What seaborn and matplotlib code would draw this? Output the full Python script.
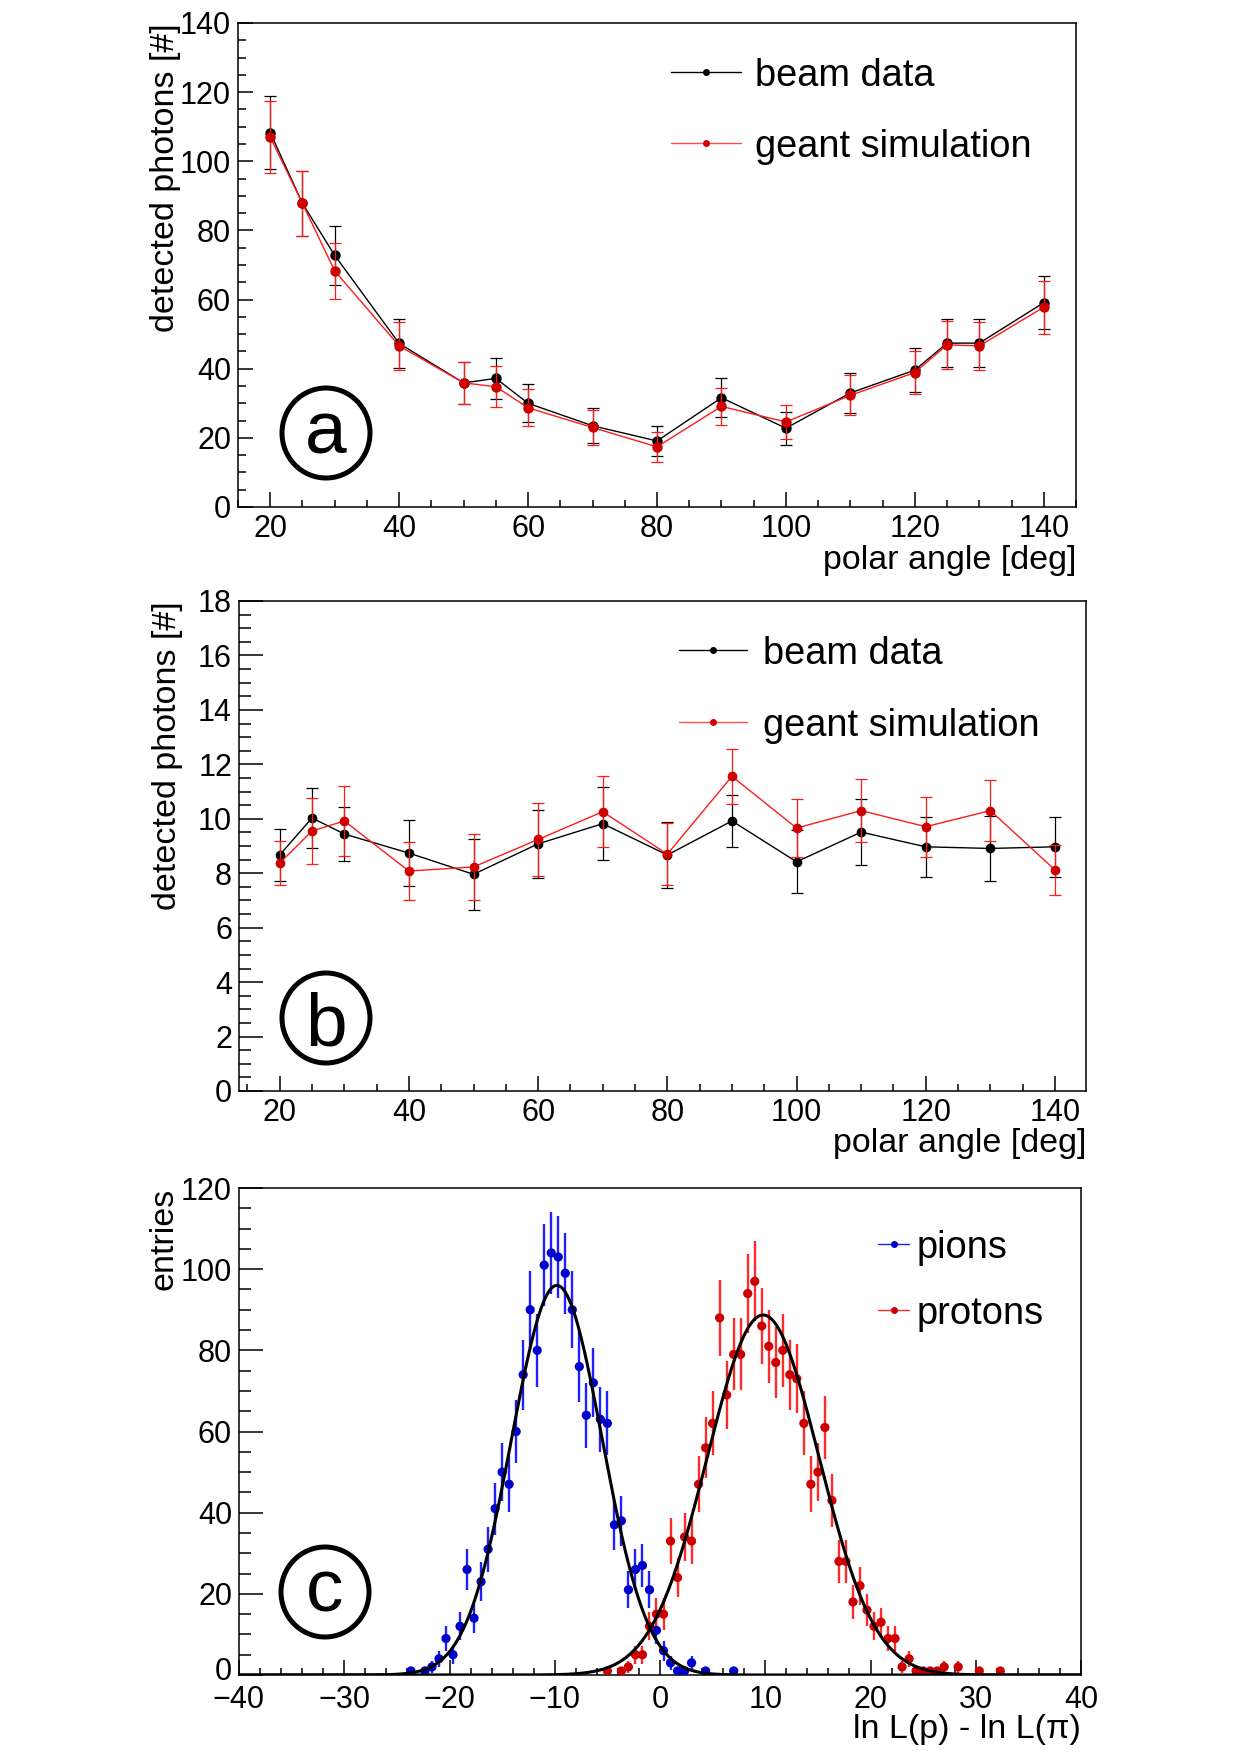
import numpy as np
import pandas as pd
import matplotlib
matplotlib.use("Agg")
import matplotlib.pyplot as plt
import seaborn as sns
from matplotlib.patches import Ellipse
from matplotlib.ticker import MultipleLocator
from matplotlib.transforms import ScaledTranslation


# panel a: detected photons vs polar angle (beam data and simulation)
angle_a = [20, 25, 30, 40, 50, 55, 60, 70, 80, 90, 100, 110, 120, 125, 130, 140]
beam_a = [108.3, 87.8, 72.8, 47.3, 35.9, 37.2, 30.0, 23.5, 19.1, 31.6, 22.8, 33.0, 39.6, 47.4, 47.4, 59.1]
beam_a_err = [10.5, 9.4, 8.5, 7.1, 6.0, 6.0, 5.5, 5.0, 4.4, 5.6, 4.8, 5.8, 6.3, 7.0, 7.0, 7.7]
sim_a = [107.0, 87.8, 68.3, 46.6, 35.9, 34.8, 28.7, 23.0, 17.4, 29.1, 24.6, 32.3, 38.9, 46.9, 46.6, 57.8]
sim_a_err = [10.4, 9.4, 8.2, 7.0, 6.0, 5.9, 5.4, 5.0, 4.3, 5.4, 5.0, 5.8, 6.2, 6.9, 6.9, 7.7]

# panel b
angle_b = [20, 25, 30, 40, 50, 60, 70, 80, 90, 100, 110, 120, 130, 140]
beam_b = [8.67, 10.03, 9.44, 8.74, 7.96, 9.08, 9.82, 8.67, 9.92, 8.42, 9.51, 8.97, 8.91, 8.97]
beam_b_err = [0.95, 1.1, 1.0, 1.2, 1.3, 1.25, 1.35, 1.2, 0.95, 1.15, 1.2, 1.1, 1.2, 1.1]
sim_b = [8.37, 9.55, 9.92, 8.08, 8.23, 9.24, 10.26, 8.70, 11.56, 9.66, 10.30, 9.71, 10.30, 8.12]
sim_b_err = [0.8, 1.2, 1.3, 1.07, 1.2, 1.35, 1.3, 1.15, 1.0, 1.05, 1.17, 1.1, 1.13, 0.93]

# panel c: log-likelihood difference histograms, 120 bins in [-40, 40]
n_bins = 120
hist_range = (-40, 40)
pion_first_bin = 24
pion_counts = [1, 0, 1, 2, 4, 9, 5, 12, 26, 14, 23, 31, 41, 50, 47, 60, 74, 90, 80, 101,
               104, 103, 99, 90, 76, 64, 72, 63, 62, 37, 38, 21, 26, 27, 21, 11, 6, 3, 1, 1,
               3, 0, 1, 0, 0, 0, 1]
proton_first_bin = 52
proton_counts = [1, 0, 1, 2, 5, 5, 12, 15, 15, 33, 24, 34, 33, 47, 56, 62, 88, 69, 79, 79,
                 94, 97, 86, 81, 77, 80, 74, 73, 62, 47, 50, 61, 43, 28, 28, 18, 22, 16, 12, 13,
                 9, 9, 2, 4, 1, 1, 1, 1, 2, 0, 2, 0, 0, 1, 0, 0, 1]
# gaussian fits: amplitude, mean, sigma
pion_fit = (96.0, -9.8, 4.3)
proton_fit = (88.7, 9.8, 5.3)

panel_tags = ["a", "b", "c"]

W, H = 1240, 1755

sns.set_theme(style="ticks")
plt.rcParams["font.family"] = ["Liberation Sans", "DejaVu Sans"]
plt.rcParams["axes.unicode_minus"] = True

fig = plt.figure(figsize=(W / 100, H / 100), dpi=100)


def make_axes(left, right, top, bottom):
    return fig.add_axes([left / W, 1 - bottom / H, (right - left) / W, (bottom - top) / H])


def style_axes(ax, xlim, ylim, xmaj, xmin, ymaj, ymin, ylen, xpad=5):
    ax.set_xlim(xlim)
    ax.set_ylim(ylim)
    ax.xaxis.set_major_locator(MultipleLocator(xmaj))
    ax.xaxis.set_minor_locator(MultipleLocator(xmin))
    ax.yaxis.set_major_locator(MultipleLocator(ymaj))
    ax.yaxis.set_minor_locator(MultipleLocator(ymin))
    ax.tick_params(which="both", direction="in", top=False, right=False,
                   width=1.1, color="black", labelcolor="black", labelsize=22)
    ax.tick_params(axis="x", which="major", length=10.8, pad=xpad)
    ax.tick_params(axis="x", which="minor", length=5)
    ax.tick_params(axis="y", which="major", length=ylen, pad=5)
    ax.tick_params(axis="y", which="minor", length=ylen / 2)
    for s in ax.spines.values():
        s.set_linewidth(1.1)
        s.set_color("black")
        s.set_visible(True)
    ax.grid(False)


def set_labels(ax, xlabel, ylabel, xpos, ypos):
    ax.set_xlabel(xlabel, fontsize=24.5, color="black", ha="right", va="center")
    ax.xaxis.set_label_coords(1.0, xpos)
    ax.set_ylabel(ylabel, fontsize=24.5, color="black", loc="top", va="center")
    ax.yaxis.set_label_coords(ypos, 1.0)


def draw_key(ax, x0, x1, xt, y, lcolor, mcolor, label, ms, lw=1.0):
    ax.plot([x0, x1], [y, y], color=lcolor, lw=lw, transform=ax.transAxes, clip_on=False)
    ax.plot([(x0 + x1) / 2], [y], "o", color=mcolor, ms=ms, mew=0, transform=ax.transAxes, clip_on=False)
    ax.text(xt, y, label, transform=ax.transAxes, ha="left", va="center_baseline",
            fontsize=27.4, color="black")


def angle_panel(ax, x, beam, beam_err, sim, sim_err, ms):
    ax.errorbar(x, beam, yerr=beam_err, fmt="none", ecolor="black", elinewidth=0.9,
                capsize=4.5, capthick=0.9, zorder=2)
    sns.lineplot(x=x, y=beam, ax=ax, color="black", lw=1.0, marker="o", markersize=ms,
                 markerfacecolor="black", markeredgecolor="black", markeredgewidth=0,
                 sort=False, estimator=None, zorder=3)
    ax.errorbar(x, sim, yerr=sim_err, fmt="none", ecolor="#ff1a1a", elinewidth=0.9,
                capsize=4.5, capthick=0.9, zorder=4)
    sns.lineplot(x=x, y=sim, ax=ax, color="#ff1a1a", lw=1.0, marker="o", markersize=ms,
                 markerfacecolor="#d00000", markeredgecolor="#d00000", markeredgewidth=0,
                 sort=False, estimator=None, zorder=5)


# ---- panel a ----
ax_a = make_axes(238, 1076, 23, 507)
angle_panel(ax_a, angle_a, beam_a, beam_a_err, sim_a, sim_a_err, 7.5)
style_axes(ax_a, (15, 145), (0, 140), 20, 5, 20, 5, 10.8)
set_labels(ax_a, "polar angle [deg]", "detected photons [#]", -0.11, -0.086)
draw_key(ax_a, 0.517, 0.600, 0.617, 0.899, "black", "black", "beam data", 5)
draw_key(ax_a, 0.517, 0.600, 0.617, 0.753, "#ff4d4d", "#d00000", "geant simulation", 5)

# ---- panel b ----
ax_b = make_axes(239, 1086, 601, 1091)
angle_panel(ax_b, angle_b, beam_b, beam_b_err, sim_b, sim_b_err, 7.0)
style_axes(ax_b, (13.7, 144.8), (0, 18), 20, 5, 2, 0.5, 17.3)
set_labels(ax_b, "polar angle [deg]", "detected photons [#]", -0.108, -0.084)
draw_key(ax_b, 0.5195, 0.600, 0.6187, 0.900, "black", "black", "beam data", 5)
draw_key(ax_b, 0.5195, 0.600, 0.6187, 0.753, "#ff4d4d", "#d00000", "geant simulation", 5)

# ---- panel c ----
ax_c = make_axes(239, 1081, 1188, 1675)
edges = np.linspace(hist_range[0], hist_range[1], n_bins + 1)
centers = 0.5 * (edges[:-1] + edges[1:])

fit_x = np.linspace(hist_range[0], hist_range[1], 801)
for counts, first, mcol, ecol in [(pion_counts, pion_first_bin, "#0000cc", "#1f1fff"),
                                  (proton_counts, proton_first_bin, "#cc0000", "#ff2a2a")]:
    counts = np.array(counts, dtype=float)
    x = centers[first:first + len(counts)]
    keep = counts > 0
    ax_c.errorbar(x[keep], counts[keep], yerr=np.sqrt(counts[keep]), fmt="none",
                  ecolor=ecol, elinewidth=1.7, capsize=0, zorder=2)
    sns.scatterplot(x=x[keep], y=counts[keep], ax=ax_c, color=mcol, s=44,
                    edgecolor="none", linewidth=0, zorder=3)

for amp, mu, sig in [pion_fit, proton_fit]:
    sns.lineplot(x=fit_x, y=amp * np.exp(-0.5 * ((fit_x - mu) / sig) ** 2), ax=ax_c,
                 color="black", lw=2.2, sort=False, estimator=None, zorder=4)

style_axes(ax_c, hist_range, (0, 120), 10, 2, 20, 5, 17.3, xpad=7)
set_labels(ax_c, "ln L(p) - ln L(π)", "entries", -0.111, -0.089)
draw_key(ax_c, 0.759, 0.7957, 0.8052, 0.885, "#1f1fff", "#0000cc", "pions", 5)
draw_key(ax_c, 0.759, 0.7957, 0.8052, 0.749, "#ff2a2a", "#cc0000", "protons", 5)

# ---- circled panel tags ----
tag_centers = [(326, 433), (326, 1018), (325, 1592)]
tag_drop = [20, 27, 20]
for tag, (cx, cy), drop in zip(panel_tags, tag_centers, tag_drop):
    fig.add_artist(Ellipse((cx / W, 1 - cy / H), 88 / W, 90 / H, transform=fig.transFigure,
                           fill=False, edgecolor="black", lw=3.6))
    fig.text(cx / W, 1 - (cy + drop) / H, tag, ha="center", va="baseline",
             fontsize=54, color="black")

# lift the "0" on the y axis of panel c a little so it clears the "-40" below it
fig.canvas.draw()
for lab in ax_c.get_yticklabels():
    if lab.get_text() == "0":
        lab.set_transform(lab.get_transform() + ScaledTranslation(0, 5 / 72, fig.dpi_scale_trans))

fig.savefig("out.png", dpi=100, facecolor="white")
